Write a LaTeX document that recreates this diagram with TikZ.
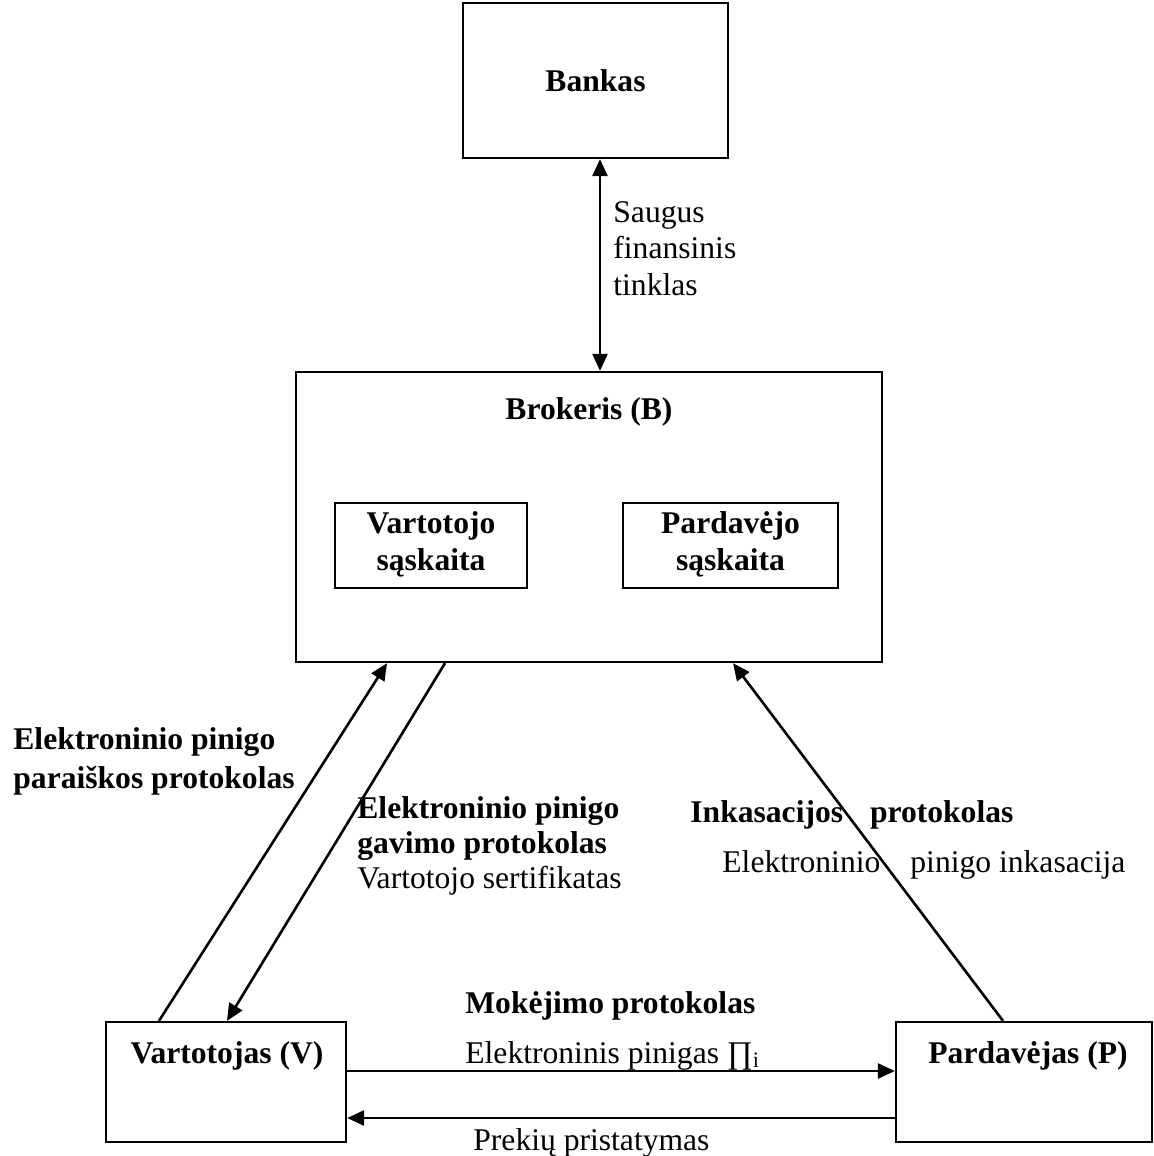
\documentclass[tikz,border=0pt]{standalone}
\usepackage{fontspec}
\setmainfont{Liberation Serif}
\usetikzlibrary{arrows.meta}
\begin{document}
\begin{tikzpicture}[x=0.5pt,y=-0.5pt,
  box/.style={draw, line width=1.15pt, inner sep=0pt},
  txt/.style={font=\fontsize{15.8}{18.5}\selectfont, inner sep=0pt},
  btxt/.style={font=\fontsize{15.8}{18.5}\selectfont\bfseries, inner sep=0pt},
  conn/.style={line width=1.3pt, -{Triangle[length=8.5pt,width=7.5pt]}},
  dconn/.style={line width=1.3pt, {Triangle[length=8.5pt,width=7.5pt]}-{Triangle[length=8.5pt,width=7.5pt]}},
]
\useasboundingbox (0,0) rectangle (1154,1156);

% boxes
\node[box, btxt, minimum width=132.5pt, minimum height=77.5pt] (bank) at (595.5,80.5) {Bankas};
\node[box, minimum width=293pt, minimum height=145pt] (brok) at (589,517) {};
\node[box, minimum width=96pt, minimum height=42.5pt] (vacc) at (431,545.5) {};
\node[box, minimum width=107.5pt, minimum height=42.5pt] (pacc) at (730.5,545.5) {};
\node[box, minimum width=120pt, minimum height=60pt] (vart) at (226,1082) {};
\node[box, minimum width=128pt, minimum height=60pt] (pard) at (1024,1082) {};

% box titles
\node[btxt, anchor=base] (brokt) at (589,419) {Brokeris (B)};
\node[btxt, anchor=base] (vacc1) at (431,533) {Vartotojo};
\node[btxt, anchor=base] (vacc2) at (431,570) {sąskaita};
\node[btxt, anchor=base] (pacc1) at (730.5,533) {Pardavėjo};
\node[btxt, anchor=base] (pacc2) at (730.5,570) {sąskaita};
\node[btxt, anchor=base] (vartt) at (227,1063) {Vartotojas (V)};
\node[btxt, anchor=base] (pardt) at (1028,1063) {Pardavėjas (P)};

% connectors
\draw[dconn] (bank.south -| 600,0) -- (brok.north -| 600,0);
\draw[conn] (vart.north -| 159,0) -- (brok.south -| 387,0);
\draw[conn] (brok.south -| 445,0) -- (vart.north -| 227,0);
\draw[conn] (pard.north -| 1003,0) -- (brok.south -| 733,0);
\draw[conn] (vart.east |- 0,1071) -- (pard.west |- 0,1071);
\draw[conn] (pard.west |- 0,1118) -- (vart.east |- 0,1118);

% connector labels
\node[txt, anchor=base west] (s1) at (613,222) {Saugus};
\node[txt, anchor=base west] (s2) at (613,258) {finansinis};
\node[txt, anchor=base west] (s3) at (613,295) {tinklas};

\node[btxt, anchor=base west] (a1) at (13,749) {Elektroninio pinigo};
\node[btxt, anchor=base west] (a2) at (13,788) {paraiškos protokolas};

\node[btxt, anchor=base west] (g1) at (357,818) {Elektroninio pinigo};
\node[btxt, anchor=base west] (g2) at (357,853) {gavimo protokolas};
\node[txt, anchor=base west] (g3) at (357,888) {Vartotojo sertifikatas};

\node[btxt, anchor=base west] (i1) at (690,822) {Inkasacijos\hspace{0.85em}protokolas};
\node[txt, anchor=base west] (i2) at (722,872) {Elektroninio\hspace{0.95em}pinigo inkasacija};

\node[btxt, anchor=base west] (m1) at (465,1013) {Mokėjimo protokolas};
\node[txt, anchor=base west] (m2) at (465,1063) {Elektroninis pinigas ∏\textsubscript{i}};
\node[txt, anchor=base west] (m3) at (473,1150) {Prekių pristatymas};
\end{tikzpicture}
\end{document}
